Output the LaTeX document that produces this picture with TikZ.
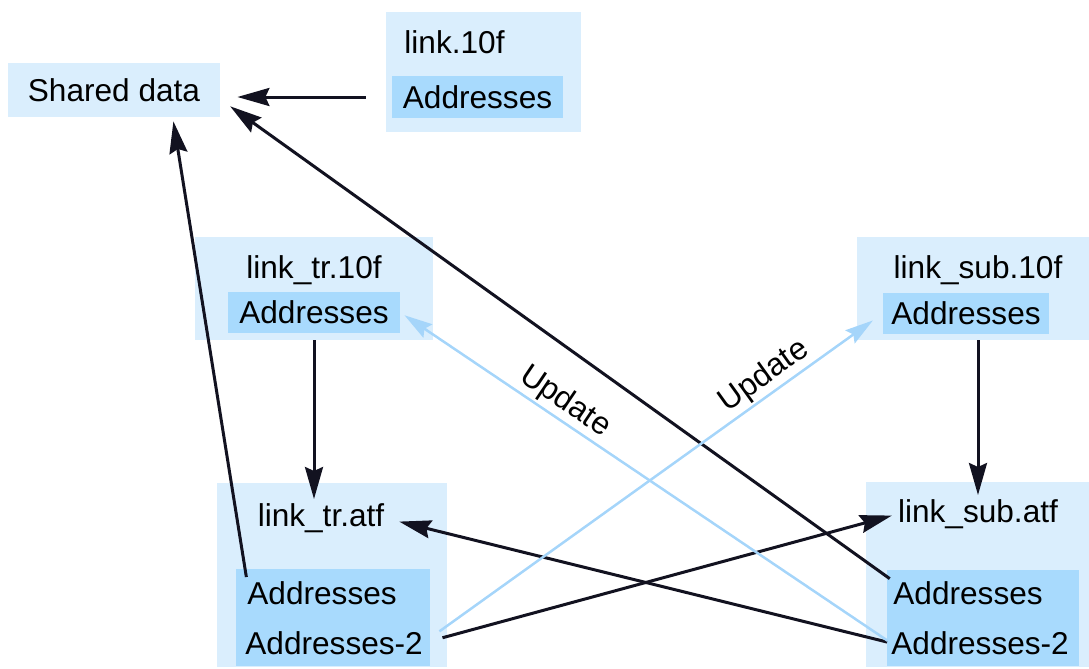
\documentclass[tikz,border=0pt]{standalone}
\usepackage{fontspec}
\setmainfont{Liberation Sans}
\usetikzlibrary{arrows.meta}
\definecolor{paleblue}{RGB}{218, 238, 253}
\definecolor{skyblue}{RGB}{168, 218, 253}
\definecolor{updateblue}{RGB}{165, 213, 250}
\definecolor{inkblack}{RGB}{18, 18, 32}
\tikzset{
    outerbox/.style={fill=paleblue, inner sep=0pt},
    innerbox/.style={fill=skyblue, inner sep=0pt},
    txt/.style={inner sep=0pt},
    link/.style={draw=inkblack, line width=1.5pt, -{Stealth[length=16pt, width=9pt, inset=2pt]}},
    update/.style={draw=updateblue, line width=1.25pt, -{Stealth[length=14pt, width=8pt, inset=2pt]}}
}

\begin{document}
\begin{tikzpicture}[x=0.5pt, y=-0.5pt, font=\fontsize{15.8}{19}\selectfont]
            % Frame to fix the size:
            \useasboundingbox                                           (0, 0) rectangle (1089, 669);
            % Shared data
            \node[outerbox, minimum width=106pt, minimum height=27pt]   (shared) at (114, 90) {Shared data};
            % link.10f
            \node[outerbox, minimum width=97.5pt, minimum height=60pt]  (l10)    at (483.5, 72) {};
            \node[txt]                                                  (l10T)   at (454.5, 42) {link.10f};
            \node[innerbox, minimum width=85.5pt, minimum height=21pt]  (l10A)   at (477.5, 97) {Addresses};
            % link_tr.10f
            \node[outerbox, minimum width=119pt, minimum height=51.5pt] (tr10)   at (314, 288.5) {};
            \node[txt]                                                  (tr10T)  at (314, 270) {link\_tr.10f};
            \node[innerbox, minimum width=86pt, minimum height=20.5pt]  (tr10A)  at (314, 312.5) {Addresses};
            % link_sub.10f
            \node[outerbox, minimum width=116pt, minimum height=51.5pt] (sub10)  at (973, 288.5) {};
            \node[txt]                                                  (sub10T) at (978, 270) {link\_sub.10f};
            \node[innerbox, minimum width=83pt, minimum height=20.5pt]  (sub10A) at (966, 313.5) {Addresses};
            % link_tr.atf
            \node[outerbox, minimum width=115pt, minimum height=92pt]   (trAtf)  at (332, 575) {};
            \node[innerbox, minimum width=97pt, minimum height=48.5pt]  (trIn)   at (333, 617.5) {};
            \node[txt]                                                  (trT)    at (321, 518) {link\_tr.atf};
            \node[txt, anchor=west]                                     (trA)    at (247, 593) {Addresses};
            \node[txt, anchor=west]                                     (trB)    at (245, 643) {Addresses-2};
            % link_sub.atf
            \node[outerbox, minimum width=111.5pt, minimum height=92.5pt] (subAtf) at (977.5, 574.5) {};
            \node[innerbox, minimum width=96pt, minimum height=48pt]    (subIn)  at (983, 618) {};
            \node[txt]                                                  (subT)   at (978, 514) {link\_sub.atf};
            \node[txt, anchor=west]                                     (subA)   at (893, 593) {Addresses};
            \node[txt, anchor=west]                                     (subB)   at (891, 643) {Addresses-2};
            % Into shared data
            \draw[link, shorten <=13pt, shorten >=8.5pt] (l10A.west) -- (l10A.west -| shared.east);
            \draw[link, shorten <=2pt, shorten >=6pt]    (subA.north west) -- (shared.-5);
            \draw[link, shorten <=2pt, shorten >=2pt]    (trA.north west) -- (shared.-25);
            % 10f to atf
            \draw[link, shorten <=3.5pt, shorten >=2pt]  (tr10A.south) -- (tr10A.south |- trT.north);
            \draw[link, shorten <=3pt, shorten >=2pt]    (sub10T.south |- sub10A.south) -- (subT.north);
            % Cross links
            \draw[link, shorten <=2pt, shorten >=7.5pt]  (subB.west) -- (trT.east);
            \draw[link, shorten <=10pt, shorten >=3pt]   (trB.east) -- (subT.west);
            % Updates
            \draw[update, shorten <=10pt, shorten >=6pt] (trB.east) -- node[txt, pos=0.765, sloped, above=1pt] {Update} (sub10A.west);
            \draw[update, shorten <=2pt, shorten >=2.5pt] (subB.west) -- node[txt, pos=0.685, sloped, above=1pt] {Update} (tr10A.east);
\end{tikzpicture}
\end{document}
